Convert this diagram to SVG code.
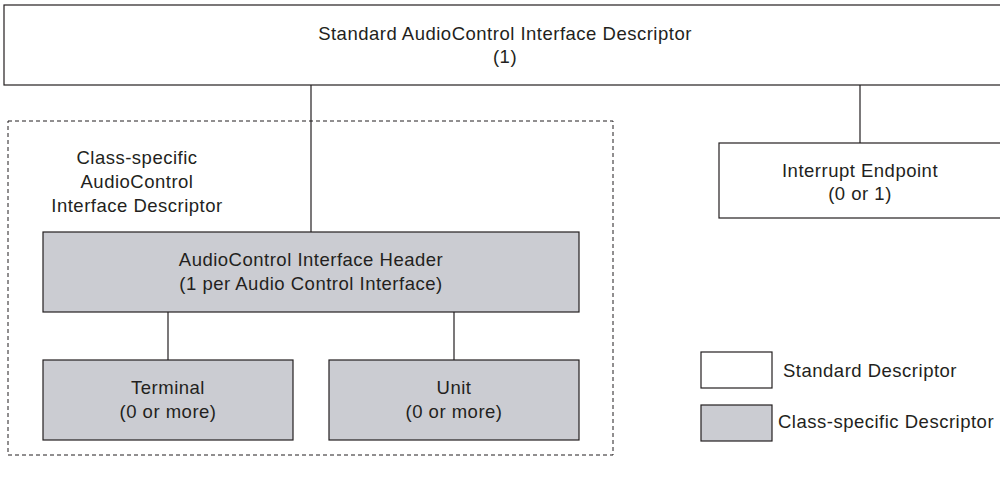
<svg xmlns="http://www.w3.org/2000/svg" width="1000" height="477" viewBox="0 0 1000 477">
<style>
text{font-family:"Liberation Sans",Arial,sans-serif;font-size:18.5px;letter-spacing:0.5px;fill:#231f20;text-anchor:middle}
.std{fill:#ffffff;stroke:#231f20;stroke-width:1.2}
.cls{fill:#cbccd2;stroke:#231f20;stroke-width:1.2}
.conn line{stroke:#231f20;stroke-width:1.2}
.lg{text-anchor:start}
</style>
<rect width="1000" height="477" fill="#ffffff"/>
<g id="group-class-specific">
<rect x="8" y="121" width="605" height="334" fill="none" stroke="#231f20" stroke-width="1" stroke-dasharray="4,3"/>
<text x="137" y="164">Class-specific</text>
<text x="137" y="188">AudioControl</text>
<text x="137" y="212">Interface Descriptor</text>
</g>
<g class="conn" id="connectors">
<line x1="311" y1="85" x2="311" y2="232"/>
<line x1="860" y1="85" x2="860" y2="143"/>
<line x1="168" y1="312" x2="168" y2="360"/>
<line x1="454" y1="312" x2="454" y2="360"/>
</g>
<g id="node-standard-ac">
<rect class="std" x="4" y="5" width="1000" height="80"/>
<text x="505" y="40">Standard AudioControl Interface Descriptor</text>
<text x="505" y="63">(1)</text>
</g>
<g id="node-interrupt">
<rect class="std" x="719" y="143" width="290" height="75"/>
<text x="860" y="177">Interrupt Endpoint</text>
<text x="860" y="200">(0 or 1)</text>
</g>
<g id="node-header">
<rect class="cls" x="43" y="232" width="536" height="80"/>
<text x="311" y="266">AudioControl Interface Header</text>
<text x="311" y="290">(1 per Audio Control Interface)</text>
</g>
<g id="node-terminal">
<rect class="cls" x="43" y="360" width="250" height="80"/>
<text x="168" y="394">Terminal</text>
<text x="168" y="418">(0 or more)</text>
</g>
<g id="node-unit">
<rect class="cls" x="329" y="360" width="250" height="80"/>
<text x="454" y="394">Unit</text>
<text x="454" y="418">(0 or more)</text>
</g>
<g id="legend">
<rect class="std" x="701" y="352" width="71" height="36"/>
<text class="lg" x="783" y="377">Standard Descriptor</text>
<rect class="cls" x="701" y="405" width="71" height="36"/>
<text class="lg" x="778" y="428">Class-specific Descriptor</text>
</g>
</svg>
